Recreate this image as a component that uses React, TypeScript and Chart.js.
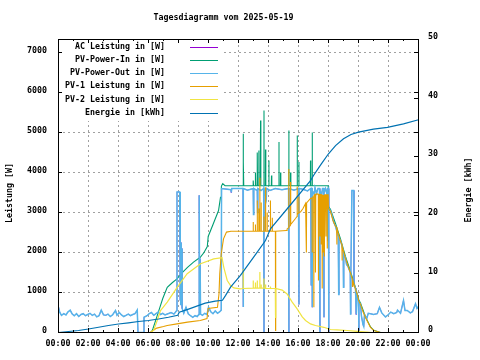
import React, { useEffect, useRef } from "react";
import { Chart, registerables } from "chart.js";

Chart.register(...registerables);

const TITLE = "Tagesdiagramm vom 2025-05-19";
const Y_LABEL = "Leistung [W]";
const Y2_LABEL = "Energie [kWh]";

const X_TICKS = [0, 2, 4, 6, 8, 10, 12, 14, 16, 18, 20, 22, 24];
const X_TICK_LABELS = ["00:00", "02:00", "04:00", "06:00", "08:00", "10:00", "12:00", "14:00", "16:00", "18:00", "20:00", "22:00", "00:00"];
const Y_TICKS = [0, 1000, 2000, 3000, 4000, 5000, 6000, 7000];
const Y2_TICKS = [0, 10, 20, 30, 40, 50];

const SERIES_NAMES = [
  "AC Leistung in [W]",
  "PV-Power-In in [W]",
  "PV-Power-Out in [W]",
  "PV-1 Leistung in [W]",
  "PV-2 Leistung in [W]",
  "Energie in [kWh]",
];
const SERIES_COLORS = ["#9400d3", "#009e73", "#56b4e9", "#e69f00", "#f0e442", "#0072b2"];
const SERIES_WIDTHS = [0.6, 1.1, 1.5, 1.1, 1.2, 1.2];

// [hour, W]
const pvPowerOut: [number, number][] = [
  [0, 630], [0.08, 510], [0.2, 430], [0.35, 470], [0.5, 440], [0.62, 510], [0.78, 560], [0.9, 470],
  [1.05, 420], [1.2, 470], [1.35, 400], [1.5, 450], [1.65, 470], [1.8, 420], [1.95, 450], [2.1, 480],
  [2.25, 430], [2.4, 460], [2.55, 390], [2.7, 420], [2.85, 560], [3.0, 440], [3.15, 430], [3.3, 460],
  [3.45, 400], [3.6, 440], [3.8, 550], [3.9, 430], [4.05, 500], [4.2, 440], [4.35, 400], [4.5, 430],
  [4.65, 460], [4.8, 420], [4.95, 450], [5.1, 470], [5.25, 560], [5.3, 0], [5.68, 0], [5.7, 380],
  [5.9, 420], [6.05, 470], [6.2, 500], [6.35, 430], [6.5, 470], [6.65, 510], [6.8, 450], [6.95, 480],
  [7.1, 440], [7.3, 470], [7.5, 500], [7.7, 460], [7.88, 550], [7.9, 3510], [8.08, 3510], [8.1, 800],
  [8.13, 2300], [8.15, 700], [8.18, 2250], [8.2, 900], [8.23, 2100], [8.26, 600], [8.35, 480], [8.5, 630],
  [8.65, 470], [8.8, 420], [8.95, 380], [9.1, 420], [9.25, 400], [9.35, 450], [9.38, 3430], [9.41, 600],
  [9.44, 1850], [9.47, 460], [9.6, 430], [9.75, 480], [9.9, 450], [10.0, 630], [10.15, 520], [10.3, 470],
  [10.45, 540], [10.6, 480], [10.75, 520], [10.85, 560], [10.87, 3600], [11.5, 3570], [11.52, 3500],
  [11.55, 3600], [12.3, 3600], [12.31, 640], [12.33, 3600], [12.6, 3560], [12.98, 3600], [13.0, 2950],
  [13.02, 3600], [13.25, 3550], [13.27, 3000], [13.29, 3600], [13.5, 3550], [13.68, 3600], [13.69, 0],
  [13.71, 3600], [13.85, 3350], [13.88, 3600], [14.1, 3550], [14.45, 3600], [14.9, 3570], [15.34, 3600],
  [15.35, 0], [15.37, 3600], [15.7, 3560], [16.0, 3600], [16.02, 700], [16.04, 3600], [16.3, 3580],
  [16.6, 3540], [16.82, 3600], [16.84, 1175], [16.86, 3600], [16.9, 3600], [16.91, 630], [16.93, 3550],
  [17.05, 3450], [17.1, 3620], [17.2, 3480], [17.3, 3600], [17.4, 3600], [17.42, 0], [17.44, 3550],
  [17.55, 3450], [17.6, 3600], [17.68, 3600], [17.69, 380], [17.71, 3500], [17.8, 3600], [17.9, 3450],
  [17.93, 3600], [17.95, 2300], [17.97, 3580], [18.0, 3600], [18.01, 0], [18.03, 3100], [18.13, 3050],
  [18.25, 2900], [18.35, 2750], [18.45, 2680], [18.65, 2400], [18.68, 950], [18.7, 2350], [18.8, 2300],
  [18.98, 2050], [19.0, 1130], [19.02, 1950], [19.13, 1875], [19.2, 1700], [19.3, 1650], [19.45, 1500],
  [19.47, 460], [19.49, 1450], [19.56, 3550], [19.68, 3550], [19.7, 1200], [19.8, 1100], [19.85, 450],
  [19.9, 975], [19.95, 850], [20.0, 800], [20.02, 0], [20.04, 700], [20.13, 720], [20.2, 400], [20.3, 200],
  [20.35, 150], [20.4, 450], [20.47, 400], [20.55, 350], [20.65, 480], [20.8, 470], [21.0, 450],
  [21.25, 470], [21.4, 630], [21.55, 490], [21.8, 390], [22.0, 450], [22.15, 510], [22.35, 470],
  [22.55, 500], [22.6, 560], [22.8, 480], [23.0, 800], [23.1, 550], [23.25, 550], [23.45, 490],
  [23.6, 520], [23.8, 720], [23.9, 600], [24.0, 650],
];

// AC power is hidden under PV-Power-Out in the reference (same readings)
const acLeistung: [number, number][] = pvPowerOut;

const pvPowerIn: [number, number][] = [
  [6.2, 0], [6.3, 100], [6.5, 330], [6.7, 560], [6.95, 850], [7.25, 1130], [7.6, 1250], [7.9, 1340],
  [8.25, 1500], [8.6, 1630], [9.0, 1760], [9.45, 1880], [9.7, 2000], [9.92, 2150], [9.98, 2400],
  [10.3, 2700], [10.67, 3050], [10.8, 3380], [10.86, 3660], [10.95, 3720], [11.1, 3670],
  [12.29, 3670], [12.31, 4970], [12.32, 3670], [12.33, 4260], [12.35, 3670], [12.97, 3670], [12.98, 3800],
  [13.0, 3670], [13.12, 3670], [13.13, 4000], [13.15, 3670], [13.24, 3670], [13.25, 4500], [13.27, 3670],
  [13.34, 3670], [13.35, 4550], [13.37, 3670], [13.45, 3670], [13.47, 5300], [13.49, 3670], [13.68, 3670],
  [13.69, 5550], [13.71, 3670], [13.79, 3670], [13.8, 4575], [13.82, 3670], [14.01, 3670], [14.02, 4300],
  [14.04, 3670], [14.19, 3670], [14.2, 3925], [14.22, 3670], [14.68, 3670], [14.69, 4760], [14.71, 3670],
  [14.79, 3670], [14.8, 4000], [14.82, 3670], [15.34, 3670], [15.35, 5050], [15.37, 3670], [15.46, 3670],
  [15.47, 4000], [15.49, 3670], [15.9, 3670], [15.91, 4925], [15.93, 3670], [16.01, 3670], [16.02, 4260],
  [16.04, 3670], [16.79, 3670], [16.8, 4300], [16.82, 3670], [16.9, 3670], [16.91, 5000], [16.93, 3670],
  [17.98, 3670], [18.0, 3150], [18.13, 3080], [18.47, 2720], [18.8, 2340], [19.13, 1900], [19.47, 1530],
  [19.8, 1120], [20.02, 820], [20.13, 740], [20.47, 390], [20.8, 140], [21.02, 55], [21.47, 0],
];

const pv1Leistung: [number, number][] = [
  [6.1, 0], [6.3, 50], [6.55, 110], [7.0, 150], [7.25, 175], [7.9, 215], [8.6, 260], [9.45, 300],
  [9.9, 350], [9.98, 600], [10.6, 630], [10.7, 970], [10.75, 1470], [10.85, 1970], [11.0, 2340],
  [11.2, 2510], [11.5, 2530], [12.97, 2530], [12.98, 2760], [12.99, 2530], [13.12, 2530], [13.13, 2700],
  [13.14, 2530], [13.24, 2530], [13.25, 3300], [13.26, 2530], [13.34, 2530], [13.35, 3100], [13.36, 2530],
  [13.41, 2530], [13.42, 3870], [13.43, 2530], [13.5, 2530], [13.51, 3250], [13.52, 2530], [13.68, 2530],
  [13.69, 2900], [13.7, 2530], [13.79, 2530], [13.8, 3630], [13.81, 2530], [13.9, 2530], [13.91, 3000],
  [13.92, 2530], [14.12, 2530], [14.13, 3300], [14.14, 2530], [14.24, 2530], [14.25, 2870], [14.26, 2530],
  [14.46, 2530], [14.47, 50], [14.48, 2530], [15.2, 2550], [15.24, 2590], [15.34, 2620], [15.35, 4090],
  [15.36, 2650], [15.46, 2670], [15.47, 3760], [15.48, 2700], [15.8, 2850], [15.9, 2900], [15.91, 3650],
  [15.92, 2950], [16.01, 2990], [16.02, 3400], [16.03, 3000], [16.13, 3010], [16.3, 3100], [16.47, 3225],
  [16.52, 3230], [16.53, 2000], [16.54, 3240], [16.8, 3350], [16.9, 3360], [16.91, 2000], [16.92, 3380],
  [17.01, 3400], [17.02, 630], [17.03, 3420], [17.1, 3450], [17.13, 1500], [17.15, 3450], [17.25, 3465],
  [17.32, 3460], [17.33, 1300], [17.35, 3450], [17.41, 3450], [17.42, 2400], [17.44, 3450], [17.49, 3450],
  [17.5, 2200], [17.52, 3450], [17.57, 3440], [17.58, 1100], [17.6, 3440], [17.65, 3440], [17.66, 2000],
  [17.68, 3440], [17.72, 3440], [17.73, 1900], [17.75, 3440], [17.81, 3440], [17.82, 2400], [17.84, 3440],
  [17.9, 3440], [17.91, 2100], [17.93, 3440], [17.98, 3440], [18.0, 3100], [18.13, 3030], [18.3, 2800],
  [18.47, 2650], [18.54, 2630], [18.55, 2200], [18.57, 2600], [18.8, 2280], [18.89, 2200], [18.9, 1800],
  [18.92, 2150], [19.13, 1860], [19.47, 1480], [19.59, 1330], [19.6, 1150], [19.62, 1300], [19.8, 1080],
  [19.91, 960], [20.02, 790], [20.13, 710], [20.3, 520], [20.47, 370], [20.65, 240], [20.8, 130],
  [21.02, 50], [21.47, 0],
];

const pv2Leistung: [number, number][] = [
  [6.15, 0], [6.35, 60], [6.58, 300], [6.8, 550], [7.25, 760], [7.91, 1130], [8.58, 1470], [9.47, 1720],
  [10.35, 1840], [10.9, 1870], [11.02, 1630], [11.25, 1300], [11.47, 1175], [11.69, 1115], [12.1, 1090],
  [12.3, 1100], [12.31, 1590], [12.32, 1100], [12.97, 1110], [12.98, 1300], [12.99, 1110], [13.12, 1110],
  [13.13, 1250], [13.14, 1110], [13.24, 1110], [13.25, 1300], [13.26, 1110], [13.41, 1110], [13.42, 1510],
  [13.43, 1110], [13.5, 1110], [13.51, 1200], [13.52, 1110], [13.68, 1110], [13.69, 1350], [13.7, 1110],
  [13.79, 1110], [13.8, 1200], [13.81, 1100], [14.12, 1100], [14.13, 1150], [14.14, 1100], [14.46, 1100],
  [14.47, 380], [14.48, 1100], [14.91, 1060], [15.24, 965], [15.58, 760], [15.91, 590], [16.25, 390],
  [16.47, 300], [16.8, 215], [17.13, 175], [17.69, 130], [18.13, 75], [18.58, 65], [19.25, 50],
  [19.91, 30], [20.58, 10], [20.9, 0],
];

// [hour, kWh]
const energie: [number, number][] = [
  [0, 0], [0.67, 0.17], [1.33, 0.34], [2, 0.6], [2.67, 0.9], [3.33, 1.2], [4, 1.45], [4.67, 1.65],
  [5.33, 1.88], [6, 2.05], [6.67, 2.3], [7.33, 2.6], [7.95, 2.95], [8.05, 3.45], [8.67, 4.0], [9.22, 4.5],
  [9.78, 5.0], [10.45, 5.36], [10.93, 5.5], [11.13, 6.3], [11.47, 7.75], [12.13, 9.75], [13.13, 13.3],
  [13.8, 15.7], [14.13, 17.7], [15.47, 21.8], [16.8, 25.9], [17.0, 26.8], [17.5, 28.7], [18.0, 30.5],
  [18.47, 31.9], [19.0, 33.05], [19.5, 33.8], [20.0, 34.2], [21.0, 34.7], [21.93, 35.0], [23.0, 35.6],
  [24.0, 36.3],
];

const SERIES_DATA = [acLeistung, pvPowerIn, pvPowerOut, pv1Leistung, pv2Leistung, energie];

const FONT = 'bold 8.3px "DejaVu Sans Mono", monospace';

export default function App() {
  const ref = useRef<HTMLCanvasElement>(null);

  useEffect(() => {
    if (!ref.current) return;
    const LEGEND_RIGHT = 224;
    const LEGEND_BOTTOM = 121;

    const gp = {
      id: "gp",
      beforeDatasetsDraw(chart: any) {
        const { ctx, chartArea: a, scales } = chart;
        ctx.save();
        ctx.fillStyle = "#ffffff";
        ctx.fillRect(a.left, a.top, a.right - a.left, a.bottom - a.top);
        ctx.strokeStyle = "#a0a0a0";
        ctx.lineWidth = 1;
        ctx.setLineDash([2, 3]);
        for (const h of X_TICKS) {
          if (h <= 0 || h >= 24) continue;
          const px = Math.round(scales.x.getPixelForValue(h)) + 0.5;
          const yTop = px < LEGEND_RIGHT ? LEGEND_BOTTOM : a.top;
          ctx.beginPath();
          ctx.moveTo(px, a.bottom);
          ctx.lineTo(px, yTop);
          ctx.stroke();
        }
        for (const v of Y_TICKS) {
          if (v <= 0) continue;
          const py = Math.round(scales.y.getPixelForValue(v)) + 0.5;
          const xStart = py < LEGEND_BOTTOM ? LEGEND_RIGHT : a.left;
          ctx.beginPath();
          ctx.moveTo(xStart, py);
          ctx.lineTo(a.right, py);
          ctx.stroke();
        }
        ctx.restore();
        ctx.save();
        ctx.translate(0.5, 0.5);
      },
      afterDatasetsDraw(chart: any) {
        chart.ctx.restore();
      },
      afterDraw(chart: any) {
        const { ctx, chartArea: a, scales } = chart;
        ctx.save();
        ctx.strokeStyle = "#000";
        ctx.lineWidth = 1;
        ctx.setLineDash([]);
        ctx.strokeRect(a.left + 0.5, a.top + 0.5, a.right - a.left, a.bottom - a.top);
        ctx.beginPath();
        for (const v of Y_TICKS) {
          const py = Math.round(scales.y.getPixelForValue(v)) + 0.5;
          ctx.moveTo(a.left, py); ctx.lineTo(a.left + 4, py);
          ctx.moveTo(a.right, py); ctx.lineTo(a.right - 4, py);
        }
        for (const v of Y2_TICKS) {
          const py = Math.round(scales.y2.getPixelForValue(v)) + 0.5;
          ctx.moveTo(a.right, py); ctx.lineTo(a.right - 4, py);
        }
        for (let h = 1; h < 24; h++) {
          const px = Math.round(scales.x.getPixelForValue(h)) + 0.5;
          const len = h % 2 === 0 ? 4 : 2;
          ctx.moveTo(px, a.bottom); ctx.lineTo(px, a.bottom - len);
          ctx.moveTo(px, a.top); ctx.lineTo(px, a.top + len);
        }
        ctx.stroke();

        ctx.fillStyle = "#000";
        ctx.font = FONT;
        ctx.textAlign = "right";
        ctx.textBaseline = "middle";
        for (const v of Y_TICKS) {
          ctx.fillText(String(v), a.left - 11, scales.y.getPixelForValue(v) - 1);
        }
        ctx.textAlign = "left";
        for (const v of Y2_TICKS) {
          ctx.fillText(String(v), a.right + 10, scales.y2.getPixelForValue(v) - 2);
        }
        ctx.textAlign = "center";
        X_TICKS.forEach((h, i) => {
          ctx.fillText(X_TICK_LABELS[i], scales.x.getPixelForValue(h), 344);
        });
        ctx.fillText(TITLE, 223.5, 18);
        ctx.save();
        ctx.translate(10, 193);
        ctx.rotate(-Math.PI / 2);
        ctx.fillText(Y_LABEL, 0, 0);
        ctx.restore();
        ctx.save();
        ctx.translate(469, 190);
        ctx.rotate(-Math.PI / 2);
        ctx.fillText(Y2_LABEL, 0, 0);
        ctx.restore();
        ctx.textAlign = "right";
        SERIES_NAMES.forEach((name, i) => {
          const ly = 47 + 13.1 * i;
          ctx.fillStyle = "#000";
          ctx.fillText(name, 165, ly);
          ctx.strokeStyle = SERIES_COLORS[i];
          ctx.lineWidth = 1;
          ctx.beginPath();
          const yy = Math.round(ly) + 0.5;
          ctx.moveTo(190, yy);
          ctx.lineTo(218, yy);
          ctx.stroke();
        });
        ctx.restore();
      },
    };

    const datasets = SERIES_NAMES.map((name, i) => ({
      label: name,
      data: SERIES_DATA[i].map(([x, y]) => ({ x, y })),
      borderColor: SERIES_COLORS[i],
      backgroundColor: SERIES_COLORS[i],
      borderWidth: SERIES_WIDTHS[i],
      pointRadius: 0,
      tension: 0,
      fill: false,
      yAxisID: i === 5 ? "y2" : "y",
      order: 6 - i,
    }));

    const chart = new Chart(ref.current, {
      type: "line",
      data: { datasets },
      options: {
        responsive: false,
        devicePixelRatio: 1,
        animation: false,
        parsing: false as any,
        normalized: true,
        layout: { padding: { top: 39, left: 0, right: 0, bottom: 0 } },
        plugins: {
          legend: { display: false },
          tooltip: { enabled: false },
          title: { display: false },
        },
        events: [],
        scales: {
          x: {
            type: "linear",
            min: 0,
            max: 24,
            ticks: { display: false },
            grid: { display: false, drawTicks: false },
            border: { display: false },
            afterFit: (s: any) => { s.height = 28; },
          },
          y: {
            type: "linear",
            position: "left",
            min: 0,
            max: 7325,
            ticks: { display: false },
            grid: { display: false, drawTicks: false },
            border: { display: false },
            afterFit: (s: any) => { s.width = 58; },
          },
          y2: {
            type: "linear",
            position: "right",
            min: 0,
            max: 50,
            ticks: { display: false },
            grid: { display: false, drawTicks: false },
            border: { display: false },
            afterFit: (s: any) => { s.width = 62; },
          },
        },
      },
      plugins: [gp],
    });
    return () => chart.destroy();
  }, []);

  return (
    <div style={{ position: "fixed", left: 0, top: 0, width: 480, height: 360, background: "#fff" }}>
      <canvas ref={ref} width={480} height={360} style={{ display: "block", width: 480, height: 360 }} />
    </div>
  );
}
